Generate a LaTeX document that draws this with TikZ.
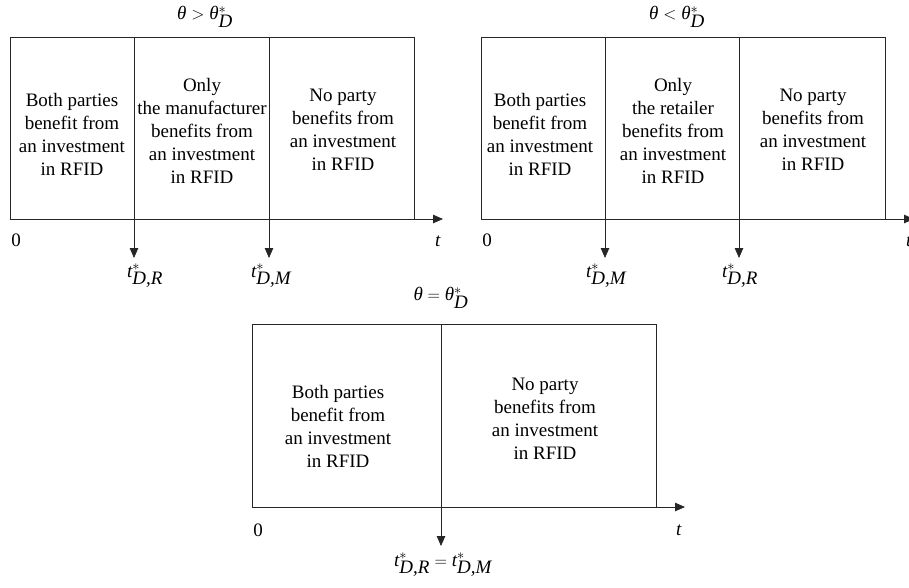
\documentclass[tikz,border=0pt]{standalone}
\usepackage{fontspec}
\setmainfont{Liberation Serif}
\usetikzlibrary{arrows.meta}
\newcommand{\thx}{\textit{θ}}
\newcommand{\tlab}[1]{$\textit{t}^{*}_{\textit{#1}}$}
\begin{document}
\begin{tikzpicture}[x=1pt,y=-1pt,
  every node/.style={font=\fontsize{19}{23}\selectfont},
  cell/.style={align=center, inner sep=0pt},
  frame/.style={draw=black!85, line width=0.75pt, inner sep=0pt, anchor=north west, minimum width=404pt, minimum height=182pt},
  axis/.style={draw=black!85, line width=0.75pt, -{Triangle[length=10pt,width=8.5pt]}},
  down/.style={draw=black!85, line width=0.75pt, -{Triangle[length=10pt,width=8.5pt]}},
  lbl/.style={inner sep=0pt},
  tl/.style={inner sep=0pt, anchor=west}
]
\useasboundingbox (0,0) rectangle (909,587);

% ---------- Panel 1 ----------
\node[lbl] (t1) at (205,17) {\thx${}>{}$\thx$^{*}_{\textit{D}}$};
\node[frame] (b1) at (10,37) {};
\coordinate (a1s) at (10,219);
\coordinate (a1e) at (443,219);
\draw[axis] (a1s) -- (a1e);
\coordinate (v11t) at (134,37);
\coordinate (v11b) at (134,258);
\coordinate (v12t) at (269,37);
\coordinate (v12b) at (269,258);
\draw[down] (v11t) -- (v11b);
\draw[down] (v12t) -- (v12b);
\node[cell] (c11) at (72,134) {Both parties\\benefit from\\an investment\\in RFID};
\node[cell] (c12) at (202,131) {Only\\the manufacturer\\benefits from\\an investment\\in RFID};
\node[cell] (c13) at (343,130) {No party\\benefits from\\an investment\\in RFID};
\node[lbl] (z1) at (16,240) {0};
\node[lbl] (tt1) at (438,241) {\textit{t}};
\node[tl] (l11) at (127,276) {\tlab{D,R}};
\node[tl] (l12) at (251,276) {\tlab{D,M}};

% ---------- Panel 2 ----------
\node[lbl] (t2) at (677,17) {\thx${}<{}$\thx$^{*}_{\textit{D}}$};
\node[frame] (b2) at (481,37) {};
\coordinate (a2s) at (481,219);
\coordinate (a2e) at (914,219);
\draw[axis] (a2s) -- (a2e);
\coordinate (v21t) at (605,37);
\coordinate (v21b) at (605,258);
\coordinate (v22t) at (739,37);
\coordinate (v22b) at (739,258);
\draw[down] (v21t) -- (v21b);
\draw[down] (v22t) -- (v22b);
\node[cell] (c21) at (540,134) {Both parties\\benefit from\\an investment\\in RFID};
\node[cell] (c22) at (673,131) {Only\\the retailer\\benefits from\\an investment\\in RFID};
\node[cell] (c23) at (813,130) {No party\\benefits from\\an investment\\in RFID};
\node[lbl] (z2) at (487,240) {0};
\node[lbl] (tt2) at (909,241) {\textit{t}};
\node[tl] (l21) at (586,276) {\tlab{D,M}};
\node[tl] (l22) at (722,276) {\tlab{D,R}};

% ---------- Panel 3 ----------
\node[lbl] (t3) at (441,298) {\thx${}={}$\thx$^{*}_{\textit{D}}$};
\node[frame, minimum height=183pt] (b3) at (252,324) {};
\coordinate (a3s) at (252,507);
\coordinate (a3e) at (685,507);
\draw[axis] (a3s) -- (a3e);
\coordinate (v31t) at (441,324);
\coordinate (v31b) at (441,546);
\draw[down] (v31t) -- (v31b);
\node[cell] (c31) at (338,426) {Both parties\\benefit from\\an investment\\in RFID};
\node[cell] (c32) at (545,419) {No party\\benefits from\\an investment\\in RFID};
\node[lbl] (z3) at (258,530) {0};
\node[lbl] (tt3) at (679,530) {\textit{t}};
\node[lbl] (l31) at (443,565) {\tlab{D,R}${}={}$\tlab{D,M}};
\end{tikzpicture}
\end{document}
